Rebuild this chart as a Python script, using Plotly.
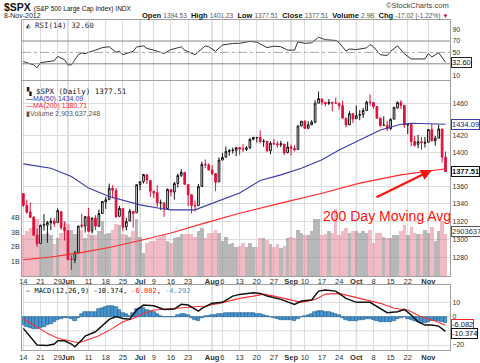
import math
import plotly.graph_objects as go

# ---------------- data ----------------
dates = [
    "2012-05-14","2012-05-15","2012-05-16","2012-05-17","2012-05-18","2012-05-21","2012-05-22","2012-05-23","2012-05-24","2012-05-25",
    "2012-05-29","2012-05-30","2012-05-31","2012-06-01","2012-06-04","2012-06-05","2012-06-06","2012-06-07","2012-06-08","2012-06-11",
    "2012-06-12","2012-06-13","2012-06-14","2012-06-15","2012-06-18","2012-06-19","2012-06-20","2012-06-21","2012-06-22","2012-06-25",
    "2012-06-26","2012-06-27","2012-06-28","2012-06-29","2012-07-02","2012-07-03","2012-07-05","2012-07-06","2012-07-09","2012-07-10",
    "2012-07-11","2012-07-12","2012-07-13","2012-07-16","2012-07-17","2012-07-18","2012-07-19","2012-07-20","2012-07-23","2012-07-24",
    "2012-07-25","2012-07-26","2012-07-27","2012-07-30","2012-07-31","2012-08-01","2012-08-02","2012-08-03","2012-08-06","2012-08-07",
    "2012-08-08","2012-08-09","2012-08-10","2012-08-13","2012-08-14","2012-08-15","2012-08-16","2012-08-17","2012-08-20","2012-08-21",
    "2012-08-22","2012-08-23","2012-08-24","2012-08-27","2012-08-28","2012-08-29","2012-08-30","2012-08-31","2012-09-04","2012-09-05",
    "2012-09-06","2012-09-07","2012-09-10","2012-09-11","2012-09-12","2012-09-13","2012-09-14","2012-09-17","2012-09-18","2012-09-19",
    "2012-09-20","2012-09-21","2012-09-24","2012-09-25","2012-09-26","2012-09-27","2012-09-28","2012-10-01","2012-10-02","2012-10-03",
    "2012-10-04","2012-10-05","2012-10-08","2012-10-09","2012-10-10","2012-10-11","2012-10-12","2012-10-15","2012-10-16","2012-10-17",
    "2012-10-18","2012-10-19","2012-10-22","2012-10-23","2012-10-24","2012-10-25","2012-10-26","2012-10-31","2012-11-01","2012-11-02",
    "2012-11-05","2012-11-06","2012-11-07","2012-11-08",
]
opens = [
    1351.93,1338.36,1330.78,1324.82,1305.05,1295.73,1316.09,1316.02,1318.72,1320.64,
    1318.90,1331.25,1313.09,1309.87,1278.29,1277.82,1285.61,1316.15,1314.99,1325.72,
    1309.40,1324.02,1314.88,1329.19,1342.42,1344.83,1357.98,1355.43,1325.92,1334.90,
    1314.09,1320.71,1331.52,1330.12,1362.33,1365.75,1373.72,1367.09,1354.66,1352.96,
    1341.40,1341.29,1334.81,1356.50,1353.68,1363.58,1373.01,1376.51,1362.34,1350.52,
    1338.35,1338.17,1360.05,1385.94,1385.27,1379.32,1375.13,1365.45,1391.04,1394.46,
    1401.23,1402.26,1402.58,1405.87,1404.36,1403.89,1405.57,1415.84,1417.85,1418.13,
    1413.09,1413.49,1401.99,1411.13,1410.44,1409.32,1410.08,1400.07,1406.54,1404.94,
    1403.74,1432.12,1437.92,1429.13,1433.56,1436.56,1460.07,1465.42,1461.19,1459.50,
    1461.05,1460.34,1459.76,1456.94,1441.60,1433.36,1447.13,1440.90,1444.99,1446.05,
    1451.08,1461.40,1460.93,1455.90,1441.48,1432.82,1432.84,1428.75,1440.31,1454.22,
    1460.94,1457.34,1433.21,1433.74,1413.20,1409.74,1412.97,1410.99,1412.20,1427.59,
    1414.02,1417.26,1428.27,1394.53,
]
highs = [
    1351.93,1344.94,1341.78,1326.36,1312.24,1316.39,1328.49,1320.71,1324.14,1324.20,
    1334.93,1331.25,1319.74,1309.87,1282.55,1287.62,1315.13,1329.05,1325.81,1335.52,
    1324.31,1327.28,1333.68,1343.32,1348.22,1363.46,1361.57,1358.27,1337.82,1334.90,
    1324.24,1334.40,1331.52,1362.17,1366.35,1374.81,1373.85,1367.09,1354.87,1361.54,
    1345.00,1341.29,1357.70,1357.26,1365.36,1375.26,1380.39,1376.51,1362.34,1351.53,
    1343.98,1363.13,1389.19,1391.74,1387.16,1385.03,1375.13,1394.16,1399.63,1407.14,
    1404.14,1405.95,1405.98,1405.87,1410.03,1407.73,1417.44,1418.71,1418.13,1426.68,
    1416.12,1413.49,1413.46,1416.17,1413.63,1413.95,1410.08,1413.09,1409.31,1408.81,
    1432.12,1437.92,1438.74,1437.76,1439.15,1463.76,1474.51,1465.63,1461.47,1465.15,
    1461.23,1467.07,1460.72,1463.24,1441.60,1450.20,1447.13,1457.14,1451.52,1454.30,
    1463.14,1470.96,1460.93,1455.90,1442.52,1443.90,1438.43,1441.31,1455.51,1462.20,
    1464.02,1457.34,1435.46,1433.74,1420.04,1421.12,1418.82,1418.76,1428.35,1434.27,
    1419.90,1433.38,1428.27,1401.23,
]
lows = [
    1336.61,1328.88,1324.79,1304.86,1291.98,1295.73,1310.04,1296.53,1310.50,1314.23,
    1318.90,1310.76,1298.90,1277.25,1266.74,1274.16,1285.61,1312.68,1307.77,1307.73,
    1306.62,1310.51,1314.14,1329.19,1334.46,1344.83,1346.45,1324.41,1325.92,1309.27,
    1310.30,1320.71,1313.29,1330.12,1355.70,1363.53,1363.02,1348.03,1346.65,1336.27,
    1333.25,1325.41,1334.81,1348.51,1345.07,1358.96,1371.21,1362.19,1337.56,1329.24,
    1331.50,1338.17,1360.05,1381.37,1379.17,1373.35,1354.65,1365.45,1391.04,1394.46,
    1396.13,1398.80,1395.62,1397.32,1400.60,1401.83,1404.15,1414.67,1412.12,1410.86,
    1406.78,1400.50,1398.04,1409.11,1405.59,1406.57,1397.01,1398.96,1396.56,1401.25,
    1403.74,1431.45,1428.98,1429.13,1432.99,1435.34,1460.07,1457.55,1456.13,1457.88,
    1449.98,1459.51,1452.06,1441.59,1430.53,1433.36,1435.60,1440.90,1439.01,1441.99,
    1451.08,1456.89,1453.10,1441.18,1430.64,1432.82,1425.53,1427.24,1440.31,1453.35,
    1452.63,1429.85,1422.06,1407.56,1407.10,1405.14,1403.28,1405.95,1412.20,1412.91,
    1408.13,1417.26,1388.14,1377.51,
]
closes = [
    1338.35,1330.66,1324.80,1304.86,1295.22,1315.99,1316.63,1318.86,1320.68,1317.82,
    1332.42,1313.32,1310.33,1278.04,1278.18,1285.50,1315.13,1314.99,1325.66,1308.93,
    1324.18,1314.88,1329.10,1342.84,1344.78,1357.98,1355.69,1325.51,1335.02,1313.72,
    1319.99,1331.85,1329.04,1362.16,1365.51,1374.02,1367.58,1354.68,1352.46,1341.47,
    1341.45,1334.76,1356.78,1353.64,1363.67,1372.78,1376.51,1362.66,1350.52,1338.31,
    1337.89,1360.02,1385.97,1385.30,1379.32,1375.32,1365.00,1390.99,1394.23,1401.35,
    1402.22,1402.80,1405.87,1404.11,1403.93,1405.53,1415.51,1418.16,1418.13,1413.17,
    1413.49,1402.08,1411.13,1410.44,1409.30,1410.49,1399.48,1406.58,1404.94,1403.44,
    1432.12,1437.92,1429.08,1433.56,1436.56,1459.99,1465.77,1461.19,1459.32,1461.05,
    1460.26,1460.15,1456.89,1441.59,1433.32,1447.15,1440.67,1444.49,1445.75,1450.99,
    1461.40,1460.93,1455.88,1441.48,1432.56,1432.84,1428.59,1440.13,1454.92,1460.91,
    1457.34,1433.19,1433.82,1413.11,1408.75,1412.97,1411.94,1412.16,1427.59,1414.20,
    1417.26,1428.39,1394.53,1377.51,
]
volume_b = [
    2.8,3.1,3.3,3.4,3.9,2.7,2.9,3.0,2.8,2.2,
    2.6,3.0,3.8,3.6,3.2,2.9,3.1,3.2,2.6,2.9,
    2.8,2.8,3.1,3.8,2.9,3.0,3.2,3.6,3.5,2.9,
    2.8,2.7,3.1,3.9,2.7,1.6,2.3,2.4,2.4,2.6,
    2.7,2.8,2.4,2.3,2.6,2.7,2.9,2.9,2.9,2.9,
    2.7,3.1,3.3,2.6,3.0,3.0,3.2,3.0,2.4,2.7,
    2.2,2.3,2.0,2.1,2.3,2.0,2.3,2.0,2.0,2.6,
    2.6,2.5,2.2,2.0,2.2,1.9,2.1,2.6,2.7,2.6,
    3.2,3.0,2.8,2.8,3.1,3.9,3.9,2.8,2.9,3.1,
    3.0,4.6,2.8,3.1,3.3,3.0,3.1,3.1,3.0,3.1,
    3.0,3.2,2.3,3.0,3.0,2.7,2.6,2.6,2.8,2.8,
    3.1,3.5,2.8,3.4,3.0,2.9,2.9,3.2,3.0,3.4,
    2.4,3.1,3.8,2.9036,
]

ma50_dates = ["2012-05-14","2012-05-24","2012-06-04","2012-06-11","2012-06-19","2012-06-22","2012-07-02","2012-07-11",
              "2012-07-16","2012-07-25","2012-08-01","2012-08-13","2012-08-21","2012-08-29","2012-09-07","2012-09-17",
              "2012-09-24","2012-10-02","2012-10-10","2012-10-18","2012-10-23","2012-11-08"]
ma50_vals = [1386.5,1381.4,1371.7,1358.2,1348.5,1345.5,1339.0,1334.8,
             1333.3,1333.3,1341.0,1352.7,1367.0,1373.6,1381.5,1391.3,
             1403.1,1415.1,1427.2,1434.2,1435.4,1434.09]
ma200_dates = ["2012-05-14","2012-05-24","2012-06-06","2012-06-19","2012-07-02","2012-07-16","2012-07-27",
               "2012-08-13","2012-08-29","2012-09-17","2012-10-02","2012-10-18","2012-11-08"]
ma200_vals = [1277.8,1280.8,1285.1,1291.3,1299.0,1307.2,1317.5,
              1329.4,1341.0,1352.4,1364.0,1373.6,1380.71]

rsi_dates = ["2012-05-14","2012-05-17","2012-05-18","2012-05-21","2012-05-25","2012-05-29","2012-05-31","2012-06-01",
             "2012-06-04","2012-06-06","2012-06-07","2012-06-08","2012-06-13","2012-06-15","2012-06-19","2012-06-21",
             "2012-06-22","2012-06-25","2012-06-27","2012-06-28","2012-06-29","2012-07-03","2012-07-05","2012-07-09",
             "2012-07-12","2012-07-16","2012-07-19","2012-07-20","2012-07-25","2012-07-27","2012-07-30","2012-07-31",
             "2012-08-02","2012-08-06","2012-08-09","2012-08-13","2012-08-16","2012-08-20","2012-08-23","2012-08-27",
             "2012-08-29","2012-08-31","2012-09-05","2012-09-06","2012-09-10","2012-09-12","2012-09-14","2012-09-18",
             "2012-09-21","2012-09-24","2012-09-26","2012-09-27","2012-10-01","2012-10-04","2012-10-05","2012-10-08",
             "2012-10-10","2012-10-12","2012-10-15","2012-10-17","2012-10-19","2012-10-23","2012-10-25","2012-10-31",
             "2012-11-01","2012-11-02","2012-11-06","2012-11-07","2012-11-08"]
rsi_vals = [34,28,23,32,35.5,43,37,28,
            28,46,49,48,54,58.5,60,50.5,
            52,46,50,52,59.7,61.5,57,54,
            48,55,59.7,54,46,57,61.5,60,
            52,63,65.7,66,69.4,68,58.5,61,
            60,54,54,68.8,65.8,67,76.6,72.4,
            71,67,52.4,56,55,58,64,60,
            46,44.5,52,61.5,47.6,38.5,38,38.5,
            48,42,49.4,40,32.6]
rsi_levels = [30, 50, 70]

macd_dates = ["2012-05-14","2012-05-17","2012-05-18","2012-05-23","2012-05-25","2012-05-29","2012-05-31","2012-06-04",
              "2012-06-05","2012-06-07","2012-06-08","2012-06-13","2012-06-15","2012-06-19","2012-06-21","2012-06-25",
              "2012-06-27","2012-06-29","2012-07-03","2012-07-09","2012-07-12","2012-07-17","2012-07-19","2012-07-23",
              "2012-07-26","2012-07-27","2012-08-01","2012-08-06","2012-08-09","2012-08-13","2012-08-17","2012-08-21",
              "2012-08-23","2012-08-29","2012-09-05","2012-09-07","2012-09-12","2012-09-14","2012-09-18","2012-09-21",
              "2012-09-26","2012-10-01","2012-10-05","2012-10-09","2012-10-12","2012-10-17","2012-10-19","2012-10-23",
              "2012-10-25","2012-10-31","2012-11-02","2012-11-06","2012-11-08"]
macd_vals = [-8.3,-17.7,-20.0,-20.3,-19.3,-17.0,-17.0,-19.3,
             -21.2,-16.5,-13.7,-10.7,-6.0,-2.0,0.0,-1.3,
             -1.8,4.6,8.1,7.6,5.0,5.3,8.6,8.1,
             3.9,5.8,9.3,10.0,14.4,15.6,16.7,16.3,
             14.4,12.1,8.6,10.9,11.6,17.9,18.6,17.9,
             12.8,10.0,10.0,6.9,2.7,3.4,5.0,1.1,
             -3.7,-6.0,-6.0,-6.7,-10.374]
signal_dates = ["2012-05-14","2012-05-17","2012-05-23","2012-05-29","2012-06-01","2012-06-06","2012-06-08","2012-06-14",
                "2012-06-20","2012-06-25","2012-06-28","2012-07-03","2012-07-09","2012-07-13","2012-07-19","2012-07-25",
                "2012-07-30","2012-08-03","2012-08-13","2012-08-17","2012-08-22","2012-08-27","2012-09-04","2012-09-07",
                "2012-09-13","2012-09-18","2012-09-24","2012-09-28","2012-10-04","2012-10-10","2012-10-16","2012-10-22",
                "2012-10-26","2012-11-05","2012-11-08"]
signal_vals = [-1.5,-6.0,-11.8,-15.3,-17.0,-18.4,-17.0,-13.5,
               -8.3,-3.7,-1.3,2.2,4.6,5.3,6.5,6.9,
               7.4,9.3,12.8,14.4,15.8,14.4,11.6,10.0,
               12.1,15.8,16.3,13.9,11.6,9.3,5.8,4.6,
               -0.3,-3.1,-6.082]
hist_vals = [
    -6.0,-7.0,-8.0,-8.5,-8.5,-8.0,-7.0,-6.0,-5.0,-4.0,
    -2.5,-1.5,-1.0,-1.0,-1.5,-3.0,-1.0,1.5,3.3,3.5,
    3.5,3.5,5.0,6.0,6.5,7.5,7.3,7.0,4.5,2.4,
    1.5,0.2,2.3,5.0,5.7,5.9,4.8,3.8,3.0,1.7,
    0.5,-0.2,-0.3,-0.5,-0.4,1.0,2.1,1.8,1.3,-0.9,
    -2.4,-2.9,-1.2,0.1,0.4,1.0,1.0,1.5,1.8,2.2,
    2.4,2.6,2.8,2.8,2.7,2.6,2.5,2.3,2.0,1.6,
    1.0,0.3,-0.5,-1.2,-1.8,-2.2,-2.6,-2.5,-2.6,-2.8,
    -1.5,-0.3,0.5,1.2,2.0,3.5,4.2,4.0,3.5,3.0,
    2.4,1.8,0.8,-0.8,-2.5,-2.8,-3.0,-2.8,-2.6,-2.2,
    -1.8,-1.8,-2.2,-3.0,-3.5,-3.8,-4.0,-3.8,-3.0,-2.0,
    -1.2,-0.6,-1.4,-2.5,-3.2,-3.8,-4.2,-4.3,-3.6,-3.4,
    -3.2,-2.8,-3.6,-4.292,
]

tick_dates = ["2012-05-14","2012-05-21","2012-05-29","2012-06-01","2012-06-11","2012-06-18","2012-06-25","2012-07-02",
              "2012-07-09","2012-07-16","2012-07-23","2012-08-01","2012-08-06","2012-08-13","2012-08-20","2012-08-27",
              "2012-09-04","2012-09-10","2012-09-17","2012-09-24","2012-10-01","2012-10-08","2012-10-15","2012-10-22",
              "2012-11-01"]
tick_labels = ["14","21","29","Jun","11","18","25","Jul","9","16","23","Aug","6","13","20","27",
               "Sep","10","17","24","Oct","8","15","22","Nov"]
month_labels = {"Jun","Jul","Aug","Sep","Oct","Nov"}
price_ticks = [1280,1300,1320,1340,1360,1400,1420,1460]
price_grid_extra = [1380, 1440]
rsi_ticks = [10,50,70,90]
macd_ticks = [10,0,-20]
macd_grid_extra = [-10]
vol_ticks = [1,2,3,4]

# ---------------- styling / layout ----------------
FONT = "Liberation Sans, Arial, sans-serif"
MONO = "DejaVu Sans Mono, monospace"
W, H = 480, 363
L, R, T, B = 22, 30, 20, 13
PH = H - T - B


def py(p):
    return (H - B - p) / PH


def px(p):
    return (p - L) / (W - L - R)


ticktext = ["<b>%s</b>" % t if t in month_labels else t for t in tick_labels]
xr = [-0.4, len(dates) + 0.3]

fig = go.Figure()

vol_colors = []
for i, c in enumerate(closes):
    prev = closes[i - 1] if i > 0 else opens[0]
    vol_colors.append("rgba(226,120,138,0.50)" if c < prev else "rgba(140,140,140,0.62)")

fig.add_trace(go.Bar(x=dates, y=[v * 1e9 for v in volume_b], xaxis="x2", yaxis="y2",
                     marker=dict(color=vol_colors, line=dict(width=0)), hoverinfo="skip"))
fig.add_trace(go.Scatter(x=ma200_dates, y=ma200_vals, xaxis="x2", yaxis="y3", mode="lines",
                         line=dict(color="#ff2a2a", width=1.1)))
fig.add_trace(go.Scatter(x=ma50_dates, y=ma50_vals, xaxis="x2", yaxis="y3", mode="lines",
                         line=dict(color="#3a3aa8", width=1.1)))
fig.add_trace(go.Candlestick(x=dates, open=opens, high=highs, low=lows, close=closes,
                             xaxis="x2", yaxis="y3", whiskerwidth=0,
                             increasing=dict(line=dict(color="#111111", width=1), fillcolor="#ffffff"),
                             decreasing=dict(line=dict(color="#e0103a", width=1), fillcolor="#e0103a")))
fig.add_trace(go.Scatter(x=rsi_dates, y=rsi_vals, xaxis="x", yaxis="y", mode="lines",
                         line=dict(color="#333333", width=1)))
fig.add_trace(go.Bar(x=dates, y=hist_vals, xaxis="x3", yaxis="y4",
                     marker=dict(color="#4a98d0", line=dict(color="#1d5d8e", width=0.6))))
fig.add_trace(go.Scatter(x=signal_dates, y=signal_vals, xaxis="x3", yaxis="y4", mode="lines",
                         line=dict(color="#ff3030", width=1.1)))
fig.add_trace(go.Scatter(x=macd_dates, y=macd_vals, xaxis="x3", yaxis="y4", mode="lines",
                         line=dict(color="#111111", width=1.5)))

xcommon = dict(type="category", categoryorder="array", categoryarray=dates, range=xr,
               tickmode="array", tickvals=tick_dates, ticktext=ticktext, tickangle=0,
               showgrid=True, gridcolor="#dddddd", gridwidth=1, automargin=False,
               showline=True, linecolor="#a0a0a0", mirror=True, ticks="",
               tickfont=dict(family=FONT, size=7.5, color="#333333"), fixedrange=True)

yright = dict(side="right", showline=True, linecolor="#a0a0a0", mirror=True, ticks="", automargin=False,
              tickfont=dict(family=FONT, size=7, color="#333333"), fixedrange=True, zeroline=False)

fig.update_layout(
    width=W, height=H, margin=dict(l=L, r=R, t=T, b=B, autoexpand=False),
    paper_bgcolor="white", plot_bgcolor="white", showlegend=False, bargap=0.0,
    xaxis=dict(xcommon, anchor="y", showticklabels=False),
    xaxis2=dict(xcommon, anchor="y2", matches="x", rangeslider=dict(visible=False), ticklabelstandoff=-2),
    xaxis3=dict(xcommon, anchor="y4", matches="x"),
    yaxis=dict(yright, domain=[py(80), py(20)], range=[1.5, 107], tickvals=rsi_ticks,
               showgrid=False),
    yaxis2=dict(domain=[py(276), py(81)], range=[0, 13.45e9], side="left", anchor="x2",
                tickvals=[v * 1e9 for v in vol_ticks], ticktext=["%dB" % v for v in vol_ticks],
                showgrid=False, showline=True, linecolor="#a0a0a0", ticks="", zeroline=False,
                automargin=False, tickfont=dict(family=FONT, size=7, color="#333333"), fixedrange=True),
    yaxis3=dict(yright, overlaying="y2", anchor="x2", type="log",
                range=[math.log10(1260.3), math.log10(1487.9)], tickvals=price_ticks,
                showgrid=True, gridcolor="#dddddd"),
    yaxis4=dict(yright, domain=[py(350), py(285)], anchor="x3", range=[-23.5, 22.2],
                tickvals=macd_ticks, showgrid=True, gridcolor="#dddddd"),
)

shapes = []
for lvl in rsi_levels:
    shapes.append(dict(type="line", xref="x domain", yref="y", x0=0, x1=1, y0=lvl, y1=lvl,
                       line=dict(color="#888888" if lvl != 50 else "#aaaaaa", width=1,
                                 dash="solid" if lvl != 50 else "dashdot")))
for lvl in price_grid_extra:
    shapes.append(dict(type="line", xref="x2 domain", yref="y3", x0=0, x1=1,
                       y0=math.log10(lvl), y1=math.log10(lvl), layer="below",
                       line=dict(color="#dddddd", width=1)))
for lvl in macd_grid_extra:
    shapes.append(dict(type="line", xref="x3 domain", yref="y4", x0=0, x1=1, y0=lvl, y1=lvl,
                       layer="below", line=dict(color="#dddddd", width=1)))
# darker month separators
for d, t in zip(tick_dates, tick_labels):
    if t in month_labels:
        k = dates.index(d)
        for xa, ya in (("x", "y"), ("x2", "y2"), ("x3", "y4")):
            shapes.append(dict(type="line", xref=xa, yref=ya + " domain", x0=k, x1=k, y0=0, y1=1,
                               line=dict(color="#bdbdbd", width=1), layer="below"))
fig.update_layout(shapes=shapes)

ann = []
# header
ann.append(dict(xref="paper", yref="paper", x=px(2), y=py(7), xanchor="left", yanchor="middle",
                text="<b>$SPX</b> <span style='font-size:6.5px'>(S&amp;P 500 Large Cap Index) INDX</span>",
                showarrow=False, font=dict(family=FONT, size=10.5, color="#111111")))
ann.append(dict(xref="paper", yref="paper", x=px(2), y=py(16), xanchor="left", yanchor="middle",
                text="8-Nov-2012", showarrow=False, font=dict(family=FONT, size=7, color="#222222")))
hdr = ("<b>Open</b> <span style='color:#555;font-size:6.5px'>1394.53</span>  "
       "<b>High</b> <span style='color:#555;font-size:6.5px'>1401.23</span>  "
       "<b>Low</b> <span style='color:#555;font-size:6.5px'>1377.51</span>  "
       "<b>Close</b> <span style='color:#555;font-size:6.5px'>1377.51</span>  "
       "<b>Volume</b> <span style='color:#555;font-size:6.5px'>2.9B</span>  "
       "<b>Chg</b> <span style='color:#555;font-size:6.5px'>-17.02 (-1.22%)</span> "
       "<span style='color:#cc0000;font-size:6px'>▼</span>")
ann.append(dict(xref="paper", yref="paper", x=px(450), y=py(16), xanchor="right", yanchor="middle",
                text=hdr, showarrow=False, font=dict(family=FONT, size=7.5, color="#111111")))
ann.append(dict(xref="paper", yref="paper", x=px(451), y=py(5.5), xanchor="right", yanchor="middle",
                text="©StockCharts.com", showarrow=False, font=dict(family=FONT, size=7.5, color="#444444")))
# panel legends
ann.append(dict(xref="paper", yref="paper", x=px(24), y=py(25.5), xanchor="left", yanchor="middle",
                text="<span style='color:#222'>◭</span> RSI(14) 32.60", showarrow=False,
                font=dict(family=MONO, size=7.5, color="#333333")))
ann.append(dict(xref="paper", yref="paper", x=px(24), y=py(91), xanchor="left", yanchor="middle",
                text="▚ $SPX (Daily) 1377.51", showarrow=False, font=dict(family=MONO, size=7.5, color="#111111")))
ann.append(dict(xref="paper", yref="paper", x=px(24), y=py(99), xanchor="left", yanchor="middle",
                text="<span style='color:#111'>—</span>MA(50) 1434.09", showarrow=False,
                font=dict(family=FONT, size=7, color="#3a3aa8")))
ann.append(dict(xref="paper", yref="paper", x=px(24), y=py(106), xanchor="left", yanchor="middle",
                text="—MA(200) 1380.71", showarrow=False, font=dict(family=FONT, size=7, color="#ff2020")))
ann.append(dict(xref="paper", yref="paper", x=px(24), y=py(113), xanchor="left", yanchor="middle",
                text="▮Volume 2,903,637,248", showarrow=False, font=dict(family=FONT, size=7, color="#555555")))
ann.append(dict(xref="paper", yref="paper", x=px(24), y=py(290.5), xanchor="left", yanchor="middle",
                text="— MACD(12,26,9) -10.374, <span style='color:#ff2020'>-6.082</span>, "
                     "<span style='color:#4a98d0'>-4.292</span>",
                showarrow=False, font=dict(family=MONO, size=7, color="#111111")))
# right value boxes
def box(yref, y, text, border, color="#111111", bold=False, yshift=0):
    return dict(xref="paper", yref=yref, x=1, y=y, xanchor="left", yanchor="middle", xshift=1, yshift=yshift,
                text=("<b>%s</b>" % text) if bold else text, showarrow=False,
                bgcolor="white", bordercolor=border, borderwidth=1, borderpad=0,
                font=dict(family=FONT, size=7.5, color=color))

ann.append(box("y", 32.60, "32.60", "#222222"))
ann.append(box("y3", math.log10(1434.09), "1434.09", "#3a3aa8", "#1a1a70"))
ann.append(box("y3", math.log10(1377.51), "1377.51", "#111111", "#111111", bold=True))
ann.append(box("y2", 2.903637248e9, "2903637", "#555555", "#333333", yshift=2))
ann.append(box("y4", -6.082, "-6.082", "#ff2020", "#111111", yshift=1))
ann.append(box("y4", -10.374, "-10.374", "#111111", "#111111", yshift=-2.5))
# 200 day annotation
ann.append(dict(xref="paper", yref="paper", x=px(432), y=py(170), ax=-57, ay=28, axref="pixel", ayref="pixel",
                text="", showarrow=True, arrowhead=2, arrowsize=1, arrowwidth=2.2, arrowcolor="#ff1010"))
ann.append(dict(xref="paper", yref="paper", x=px(321), y=py(216), xanchor="left", yanchor="middle",
                text="200 Day Moving Avg", showarrow=False, font=dict(family=FONT, size=14, color="#ff1010")))
fig.update_layout(annotations=ann)

fig.write_html("out.html", config={"displayModeBar": False},
               post_script="document.body.style.margin='0px';document.body.style.padding='0px';")
